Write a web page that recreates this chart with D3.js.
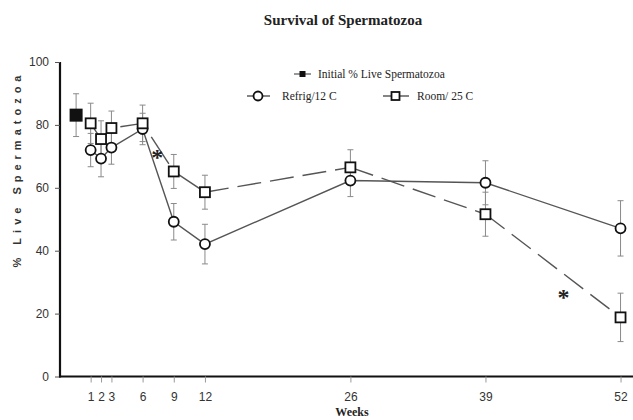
<!DOCTYPE html>
<html><head><meta charset="utf-8">
<script src="https://cdn.jsdelivr.net/npm/d3@7"></script>
<style>body{margin:0;background:#fff}svg{display:block}</style>
</head><body>
<svg id="c" width="633" height="420"></svg>
<script>
const weeks = [1, 2, 3, 6, 9, 12, 26, 39, 52];
const refrig = [72.0, 69.3, 72.8, 78.7, 49.2, 42.1, 62.3, 61.6, 47.1];
const refrigErr = [5.3, 5.8, 5.3, 5.0, 5.8, 6.3, 5.1, 7.0, 8.8];
const room = [80.5, 75.5, 79.0, 80.5, 65.2, 58.6, 66.5, 51.6, 18.8];
const roomErr = [6.4, 5.8, 5.4, 5.8, 5.4, 5.4, 5.6, 7.0, 7.7];
const initialWeek = -0.4, initialValue = 83.1, initialErr = 6.8;
const xTicks = [1, 2, 3, 6, 9, 12, 26, 39, 52];
const yTicks = [0, 20, 40, 60, 80, 100];
const asterisks = [{week: 7.4, value: 71.5}, {week: 46.5, value: 26.8}];

const svg = d3.select("#c");
const x = d3.scaleLinear().domain([-1.95, 53.2]).range([60, 633]);
const y = d3.scaleLinear().domain([0, 100]).range([376.5, 62]);

// title
svg.append("text").attr("x", 343).attr("y", 25).attr("text-anchor", "middle")
  .attr("font-family", "Liberation Serif, Times New Roman, serif").attr("font-weight", "bold")
  .attr("font-size", 15).attr("fill", "#222").text("Survival of Spermatozoa");

// y axis
const ya = svg.append("g").attr("transform", "translate(60,0)")
  .call(d3.axisLeft(y).tickValues(yTicks).tickSize(5).tickPadding(6));
ya.select(".domain").attr("stroke", "#111").attr("stroke-width", 2.2).attr("d", `M0,${y(100)}V${y(0)+1}`);
ya.selectAll(".tick line").attr("stroke", "#555");
ya.selectAll(".tick text").attr("font-family", "Liberation Sans, Arial, sans-serif").attr("font-size", 12).attr("fill", "#333");

// x axis
const xa = svg.append("g").attr("transform", `translate(0,${y(0)})`)
  .call(d3.axisBottom(x).tickValues(xTicks).tickSize(6).tickPadding(10));
xa.select(".domain").attr("stroke", "#111").attr("stroke-width", 2.2).attr("d", `M59,0H633`);
xa.selectAll(".tick line").attr("stroke", "#999");
xa.selectAll(".tick text").attr("font-family", "Liberation Sans, Arial, sans-serif").attr("font-size", 12).attr("fill", "#333");

// axis labels
svg.append("text").attr("x", 352).attr("y", 416).attr("text-anchor", "middle")
  .attr("font-family", "Liberation Serif, Times New Roman, serif").attr("font-weight", "bold")
  .attr("font-size", 12).attr("fill", "#222").text("Weeks");
svg.append("text").attr("transform", "translate(21,169) rotate(-90)").attr("text-anchor", "middle")
  .attr("font-family", "Liberation Sans, Arial, sans-serif").attr("font-weight", "bold")
  .attr("font-size", 11).attr("letter-spacing", "5px").attr("fill", "#333").text("% Live Spermatozoa");

// error bars
function errBars(vals, errs, wk) {
  const g = svg.append("g").attr("stroke", "#8a8a8a").attr("stroke-width", 1);
  vals.forEach((v, i) => {
    const cx = x(wk[i]);
    g.append("line").attr("x1", cx).attr("x2", cx).attr("y1", y(v + errs[i])).attr("y2", y(v - errs[i]));
    g.append("line").attr("x1", cx - 3).attr("x2", cx + 3).attr("y1", y(v + errs[i])).attr("y2", y(v + errs[i]));
    g.append("line").attr("x1", cx - 3).attr("x2", cx + 3).attr("y1", y(v - errs[i])).attr("y2", y(v - errs[i]));
  });
}
errBars(refrig, refrigErr, weeks);
errBars(room, roomErr, weeks);
errBars([initialValue], [initialErr], [initialWeek]);

// lines
const line = d3.line().x(d => x(d[0])).y(d => y(d[1]));
svg.append("path").attr("d", line(weeks.map((w, i) => [w, refrig[i]])))
  .attr("fill", "none").attr("stroke", "#555").attr("stroke-width", 1.4);
const roomPts = weeks.map((w, i) => [w, room[i]]);
// gaps left at segment ends (px) for the room series, start/end
const roomTrim = [[0,0],[0,0],[9,5],[16,9],[0,0],[0,0],[0,0],[0,0]];
for (let i = 0; i < roomPts.length - 1; i++) {
  const dashed = roomPts[i + 1][0] > 12;
  const x1 = x(roomPts[i][0]), y1 = y(roomPts[i][1]), x2 = x(roomPts[i+1][0]), y2 = y(roomPts[i+1][1]);
  const L = Math.hypot(x2 - x1, y2 - y1), ux = (x2 - x1) / L, uy = (y2 - y1) / L;
  const [a, b] = roomTrim[i];
  svg.append("line").attr("x1", x1 + ux * a).attr("y1", y1 + uy * a).attr("x2", x2 - ux * b).attr("y2", y2 - uy * b)
    .attr("stroke", "#555").attr("stroke-width", 1.4)
    .attr("stroke-dasharray", dashed ? "24,9" : null);
}

// markers
svg.append("g").selectAll("circle").data(weeks).join("circle")
  .attr("cx", d => x(d)).attr("cy", (d, i) => y(refrig[i])).attr("r", 5)
  .attr("fill", "#fff").attr("stroke", "#111").attr("stroke-width", 1.8);
svg.append("g").selectAll("rect").data(weeks).join("rect")
  .attr("x", d => x(d) - 5).attr("y", (d, i) => y(room[i]) - 5).attr("width", 10).attr("height", 10)
  .attr("fill", "#fff").attr("stroke", "#111").attr("stroke-width", 1.8);
svg.append("rect").attr("x", x(initialWeek) - 6.5).attr("y", y(initialValue) - 6.5)
  .attr("width", 13).attr("height", 13).attr("fill", "#111");

// asterisks
svg.append("g").selectAll("text").data(asterisks).join("text")
  .attr("x", d => x(d.week)).attr("y", d => y(d.value) + 13).attr("text-anchor", "middle")
  .attr("font-family", "Liberation Serif, Times New Roman, serif").attr("font-weight", "bold")
  .attr("font-size", 24).attr("fill", "#222").text("*");

// legend
const lf = "Liberation Serif, Times New Roman, serif";
const lg = svg.append("g");
lg.append("line").attr("x1", 294).attr("x2", 311).attr("y1", 74).attr("y2", 74).attr("stroke", "#333").attr("stroke-width", 1);
lg.append("rect").attr("x", 299.5).attr("y", 71).attr("width", 6).attr("height", 6).attr("fill", "#111");
lg.append("text").attr("x", 318).attr("y", 78).attr("font-family", lf).attr("font-size", 11.5).attr("fill", "#222").text("Initial % Live Spermatozoa");
lg.append("line").attr("x1", 247).attr("x2", 270).attr("y1", 96).attr("y2", 96).attr("stroke", "#333").attr("stroke-width", 1.2);
lg.append("circle").attr("cx", 258).attr("cy", 96).attr("r", 4.5).attr("fill", "#fff").attr("stroke", "#111").attr("stroke-width", 1.8);
lg.append("text").attr("x", 282).attr("y", 100).attr("font-family", lf).attr("font-size", 11.5).attr("fill", "#222").text("Refrig/12 C");
lg.append("line").attr("x1", 383).attr("x2", 409).attr("y1", 96).attr("y2", 96).attr("stroke", "#333").attr("stroke-width", 1.2);
lg.append("rect").attr("x", 391.5).attr("y", 92).attr("width", 8).attr("height", 8).attr("fill", "#fff").attr("stroke", "#111").attr("stroke-width", 1.8);
lg.append("text").attr("x", 417).attr("y", 100).attr("font-family", lf).attr("font-size", 11.5).attr("fill", "#222").text("Room/ 25 C");
</script>
</body></html>
